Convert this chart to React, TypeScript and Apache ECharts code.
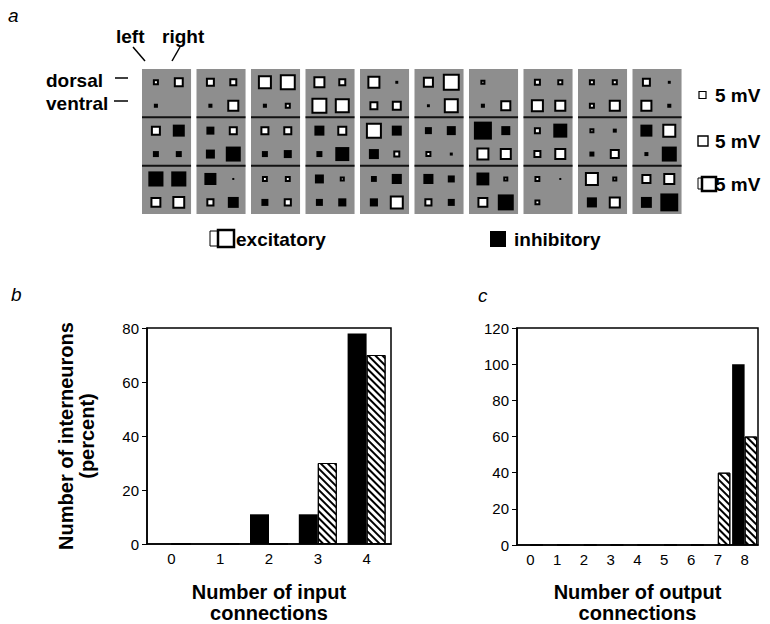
import React, { useEffect, useRef } from "react";
import * as echarts from "echarts";

// ---------- Panel a: synaptic amplitudes (mV); + excitatory (open), - inhibitory (filled)
// each tile: [dorsal-left, dorsal-right, ventral-left, ventral-right]
const tileIds = [0, 1, 2, 3, 4, 5, 6, 7, 8, 9];
const row1Amplitudes = [
  [4.3, 7.1, 2.9, 0],
  [6.4, 5.7, -2.9, 8.6],
  [10, 11.4, -2.9, 4.3],
  [8.6, 5.7, 11.4, 10.7],
  [9.3, -2.1, 6.4, 7.1],
  [7.9, 12.1, -2.1, 10.7],
  [3.6, 0, -2.9, 7.9],
  [5, 4.3, 9.3, 8.6],
  [4.3, 4.3, 4.3, 8.6],
  [6.4, -2.1, 8.6, 2.9],
];
const row2Amplitudes = [
  [5, -6, -3, -3],
  [-4, 4.5, -4.5, -7.5],
  [4.5, 4.5, -3, -4],
  [-5, 5, -3, -7],
  [8, -5, -5, 3.5],
  [-3.5, -4.5, 3, -1.5],
  [-9, -4.5, 6.5, 6],
  [3.5, -7, 4, 6],
  [2.5, 2, -2.5, 5],
  [-6, 7, -2, -7.5],
];
const row3Amplitudes = [
  [-5.4, -5.4, 3.9, 4.6],
  [-4.3, -0.7, 2.9, -3.9],
  [2.1, 2.1, -2.5, 2.9],
  [-3.2, 1.8, -2.5, -2.9],
  [-2.1, -3.6, -2.9, 5],
  [-3.6, -2.5, 2.9, -2.5],
  [-4.6, 1.8, 3.9, -5.7],
  [2.1, -0.7, 2.1, 0],
  [5, 1.8, -3.6, 4.3],
  [3.6, 4.3, -3.9, -6.4],
];
const scaleBarValue = 5;
const scaleBarLabel = "5 mV";

// ---------- Panel b
const inputCategories = ["0", "1", "2", "3", "4"];
const inputFilled = [0, 0, 11, 11, 78];
const inputHatched = [0, 0, 0, 30, 70];

// ---------- Panel c
const outputCategories = ["0", "1", "2", "3", "4", "5", "6", "7", "8"];
const outputFilled = [0, 0, 0, 0, 0, 0, 0, 0, 100];
const outputHatched = [0, 0, 0, 0, 0, 0, 0, 40, 60];

const FONT = "'Liberation Sans', Arial, Helvetica, sans-serif";
const ROW_SCALE = [1.4, 2.0, 2.8]; // px per mV for each row
const POS = [
  [0.255, 0.275],
  [0.675, 0.275],
  [0.255, 0.76],
  [0.675, 0.76],
];
const TILE_FILL = "#8e8e8e";

export default function App() {
  const ref = useRef<HTMLDivElement>(null);

  useEffect(() => {
    document.body.style.margin = "0";
    if (!ref.current) return;
    const chart = echarts.init(ref.current, null, { renderer: "svg" });

    const rows = [row1Amplitudes, row2Amplitudes, row3Amplitudes];
    const excit: number[][] = [];
    const inhib: number[][] = [];
    rows.forEach((row, r) =>
      row.forEach((tile, i) =>
        tile.forEach((v, k) => {
          if (!v) return;
          const pt = [tileIds[i] + POS[k][0], r + POS[k][1], v, r];
          (v > 0 ? excit : inhib).push(pt);
        })
      )
    );

    const hatchDecal = {
      symbol: "rect",
      symbolSize: 1,
      color: "#000",
      backgroundColor: "#fff",
      dashArrayX: [1, 0],
      dashArrayY: [1.4, 2.4],
      rotation: Math.PI / 4,
    };

    const axisText = { color: "#000", fontFamily: FONT, fontSize: 15 };
    const titleText = {
      color: "#000",
      fontFamily: FONT,
      fontSize: 20,
      fontWeight: "bold" as const,
      lineHeight: 21,
    };
    const lineStyle = { color: "#000", width: 1.5 };

    const t = (text: string, x: number, y: number, font: string, align = "left") => ({
      type: "text",
      x,
      y,
      silent: true,
      style: {
        text,
        font,
        fill: "#000",
        textAlign: align,
        textVerticalAlign: "middle",
      },
    });
    const bold19 = `bold 19px ${FONT}`;

    const s0 = scaleBarValue * ROW_SCALE[0];
    const s1 = scaleBarValue * ROW_SCALE[1];
    const s2 = scaleBarValue * ROW_SCALE[2];

    const option: any = {
      animation: false,
      grid: [
        { left: 142, top: 69, width: 545, height: 145 },
        {
          left: 147,
          top: 328,
          width: 244,
          height: 217,
          show: true,
          borderColor: "#000",
          borderWidth: 1.5,
        },
        {
          left: 517,
          top: 328,
          width: 241,
          height: 217,
          show: true,
          borderColor: "#000",
          borderWidth: 1.5,
        },
      ],
      xAxis: [
        { gridIndex: 0, type: "value", min: 0, max: 10, show: false },
        {
          gridIndex: 1,
          type: "category",
          data: inputCategories,
          axisLine: { lineStyle },
          axisTick: { length: 4, lineStyle: { color: "#000" } },
          axisLabel: { ...axisText, margin: 7 },
          name: "Number of input\nconnections",
          nameLocation: "middle",
          nameGap: 37,
          nameTextStyle: titleText,
        },
        {
          gridIndex: 2,
          type: "category",
          data: outputCategories,
          axisLine: { lineStyle },
          axisTick: { length: 4, lineStyle: { color: "#000" } },
          axisLabel: { ...axisText, margin: 7 },
          name: "Number of output\nconnections",
          nameLocation: "middle",
          nameGap: 36,
          nameTextStyle: titleText,
        },
      ],
      yAxis: [
        { gridIndex: 0, type: "value", min: 0, max: 3, inverse: true, show: false },
        {
          gridIndex: 1,
          type: "value",
          min: 0,
          max: 80,
          interval: 20,
          splitLine: { show: false },
          axisLine: { show: true, lineStyle },
          axisTick: { show: true, length: 5, lineStyle: { color: "#000" } },
          axisLabel: { ...axisText, margin: 8 },
          name: "Number of interneurons\n(percent)",
          nameLocation: "middle",
          nameRotate: 90,
          nameGap: 50,
          nameTextStyle: titleText,
        },
        {
          gridIndex: 2,
          type: "value",
          min: 0,
          max: 120,
          interval: 20,
          splitLine: { show: false },
          axisLine: { show: true, lineStyle },
          axisTick: { show: true, length: 5, lineStyle: { color: "#000" } },
          axisLabel: { ...axisText, margin: 8 },
        },
      ],
      series: [
        {
          type: "custom",
          name: "tiles",
          xAxisIndex: 0,
          yAxisIndex: 0,
          silent: true,
          z: 1,
          data: tileIds.map((i) => [i, 0]),
          renderItem: (params: any, api: any) => {
            const i = api.value(0);
            const a = api.coord([i, 0]);
            const b = api.coord([i + 0.9, 3]);
            const y1 = api.coord([i, 1])[1];
            const y2 = api.coord([i, 2])[1];
            return {
              type: "group",
              children: [
                {
                  type: "rect",
                  shape: { x: a[0], y: a[1], width: b[0] - a[0], height: b[1] - a[1] },
                  style: { fill: TILE_FILL },
                },
                {
                  type: "line",
                  shape: { x1: a[0], y1, x2: b[0], y2: y1 },
                  style: { stroke: "#111", lineWidth: 2 },
                },
                {
                  type: "line",
                  shape: { x1: a[0], y1: y2, x2: b[0], y2 },
                  style: { stroke: "#111", lineWidth: 2 },
                },
              ],
            };
          },
        },
        {
          type: "scatter",
          name: "excitatory",
          xAxisIndex: 0,
          yAxisIndex: 0,
          z: 3,
          symbol: "rect",
          data: excit,
          symbolSize: (d: number[]) => Math.max(Math.abs(d[2]) * ROW_SCALE[d[3]] - 2, 1.5),
          itemStyle: { color: "#fff", borderColor: "#000", borderWidth: 2, opacity: 1 },
        },
        {
          type: "scatter",
          name: "inhibitory",
          xAxisIndex: 0,
          yAxisIndex: 0,
          z: 3,
          symbol: "rect",
          data: inhib,
          symbolSize: (d: number[]) => Math.max(Math.abs(d[2]) * ROW_SCALE[d[3]], 2),
          itemStyle: { color: "#000", opacity: 1 },
        },
        {
          type: "bar",
          name: "inputFilled",
          xAxisIndex: 1,
          yAxisIndex: 1,
          data: inputFilled,
          barWidth: 19,
          barGap: "0%",
          itemStyle: { color: "#000" },
        },
        {
          type: "bar",
          name: "inputHatched",
          xAxisIndex: 1,
          yAxisIndex: 1,
          data: inputHatched,
          barWidth: 19,
          barGap: "0%",
          itemStyle: { color: "#fff", borderColor: "#000", borderWidth: 1, decal: hatchDecal },
        },
        {
          type: "bar",
          name: "outputFilled",
          xAxisIndex: 2,
          yAxisIndex: 2,
          data: outputFilled,
          barWidth: 12.5,
          barGap: "0%",
          itemStyle: { color: "#000" },
        },
        {
          type: "bar",
          name: "outputHatched",
          xAxisIndex: 2,
          yAxisIndex: 2,
          data: outputHatched,
          barWidth: 12.5,
          barGap: "0%",
          itemStyle: { color: "#fff", borderColor: "#000", borderWidth: 1, decal: hatchDecal },
        },
      ],
      graphic: [
        t("a", 8, 15, `italic 19px ${FONT}`),
        t("b", 11, 294, `italic 19px ${FONT}`),
        t("c", 478, 295, `italic 19px ${FONT}`),
        t("left", 116, 36, bold19),
        t("right", 162, 36, bold19),
        {
          type: "line",
          silent: true,
          shape: { x1: 133, y1: 47, x2: 145, y2: 61 },
          style: { stroke: "#000", lineWidth: 1.5 },
        },
        {
          type: "line",
          silent: true,
          shape: { x1: 180, y1: 47, x2: 172, y2: 61 },
          style: { stroke: "#000", lineWidth: 1.5 },
        },
        t("dorsal", 46, 80, bold19),
        t("ventral", 46, 103, bold19),
        {
          type: "line",
          silent: true,
          shape: { x1: 115, y1: 78, x2: 128, y2: 78 },
          style: { stroke: "#000", lineWidth: 1.5 },
        },
        {
          type: "line",
          silent: true,
          shape: { x1: 114, y1: 101, x2: 128, y2: 101 },
          style: { stroke: "#000", lineWidth: 1.5 },
        },
        // scale bars
        {
          type: "rect",
          silent: true,
          shape: { x: 702.5 - s0 / 2, y: 95 - s0 / 2, width: s0, height: s0 },
          style: { fill: "#fff", stroke: "#000", lineWidth: 1.2 },
        },
        t(scaleBarLabel, 715, 95.5, bold19),
        {
          type: "rect",
          silent: true,
          shape: { x: 703 - s1 / 2, y: 141 - s1 / 2, width: s1, height: s1 },
          style: { fill: "#fff", stroke: "#000", lineWidth: 1.4 },
        },
        t(scaleBarLabel, 715, 141.5, bold19),
        t(scaleBarLabel, 715, 184, bold19),
        {
          type: "rect",
          silent: true,
          shape: { x: 698, y: 178, width: 9, height: 11 },
          style: { fill: "#fff", stroke: "#000", lineWidth: 1 },
        },
        {
          type: "rect",
          silent: true,
          shape: { x: 709 - s2 / 2, y: 184 - s2 / 2, width: s2, height: s2 },
          style: { fill: "#fff", stroke: "#000", lineWidth: 2.5 },
        },
        // type legend
        {
          type: "rect",
          silent: true,
          shape: { x: 210, y: 231, width: 12, height: 15 },
          style: { fill: "#fff", stroke: "#000", lineWidth: 1 },
        },
        {
          type: "rect",
          silent: true,
          shape: { x: 218, y: 230, width: 16, height: 17 },
          style: { fill: "#fff", stroke: "#000", lineWidth: 2.5 },
        },
        t("excitatory", 236, 239, bold19),
        {
          type: "rect",
          silent: true,
          shape: { x: 490, y: 231, width: 16, height: 16 },
          style: { fill: "#000" },
        },
        t("inhibitory", 514, 239, bold19),
      ],
    };

    chart.setOption(option);
    return () => chart.dispose();
  }, []);

  return <div ref={ref} style={{ width: 770, height: 624 }} />;
}
